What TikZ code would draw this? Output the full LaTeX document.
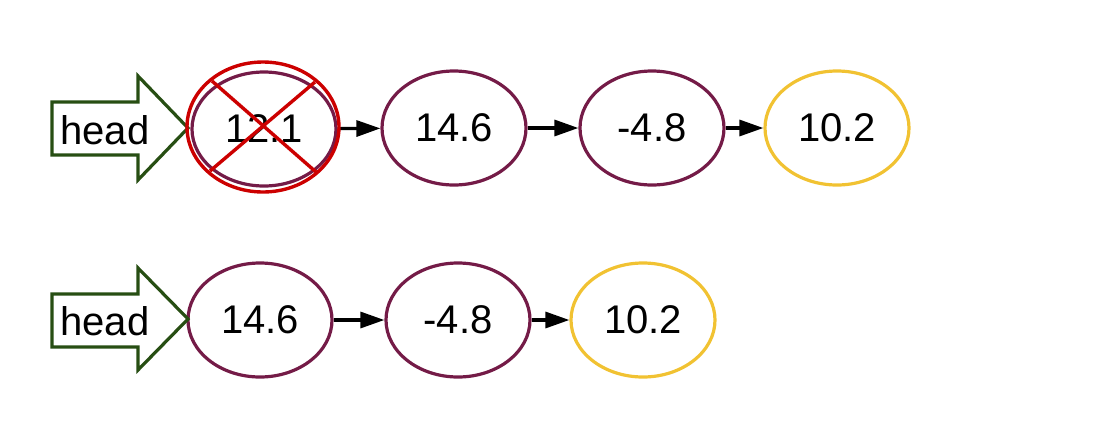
\documentclass[tikz,border=0pt]{standalone}
\usepackage{fontspec}
\setmainfont{Liberation Sans}
\usetikzlibrary{shapes.geometric,arrows.meta}
\definecolor{nodepurple}{HTML}{741B47}
\definecolor{nodeyellow}{HTML}{F1C232}
\definecolor{headgreen}{HTML}{274E13}
\definecolor{crossred}{HTML}{CC0000}
\begin{document}
\begin{tikzpicture}[x=1pt,y=-1pt,
  elem/.style={ellipse,draw=nodepurple,line width=3.2pt,minimum width=144pt,minimum height=114pt,inner sep=0pt,font=\fontsize{40}{46}\selectfont},
  lastelem/.style={elem,draw=nodeyellow},
  link/.style={line width=3.2pt,-{Triangle[length=24pt,width=16pt]}},
  headarrow/.style={draw=headgreen,line width=3.2pt,line join=miter},
  headtext/.style={inner sep=0pt,font=\fontsize{40}{46}\selectfont},
  cross/.style={draw=crossred,line width=3.4pt}]
\useasboundingbox (0,0) rectangle (1098,440);
% row 1
\node[elem] (a1) at (264,129) {12.1};
\node[elem] (a2) at (454,128) {14.6};
\node[elem] (a3) at (652,128) {-4.8};
\node[lastelem] (a4) at (837,128) {10.2};
\draw[link] (a1) -- (a2);
\draw[link] (a2) -- (a3);
\draw[link] (a3) -- (a4);
\coordinate (t1) at (188,128);
\draw[headarrow] (52,102) -- (138,102) -- (138,76) -- (t1) -- (138,180) -- (138,155) -- (52,155) -- cycle;
\node[headtext] (h1) at (105,130) {head};
\node[ellipse,cross,minimum width=152pt,minimum height=130pt,inner sep=0pt] (rx) at (263,127) {};
\draw[cross] (212,81) -- (316,172);
\draw[cross] (315,82) -- (210,171);
% row 2
\node[elem] (b1) at (260,320) {14.6};
\node[elem] (b2) at (458,320) {-4.8};
\node[lastelem] (b3) at (643,320) {10.2};
\draw[link] (b1) -- (b2);
\draw[link] (b2) -- (b3);
\coordinate (t2) at (188,319);
\draw[headarrow] (52,294) -- (138,294) -- (138,268) -- (t2) -- (138,370) -- (138,347) -- (52,347) -- cycle;
\node[headtext] (h2) at (105,321) {head};
\end{tikzpicture}
\end{document}
